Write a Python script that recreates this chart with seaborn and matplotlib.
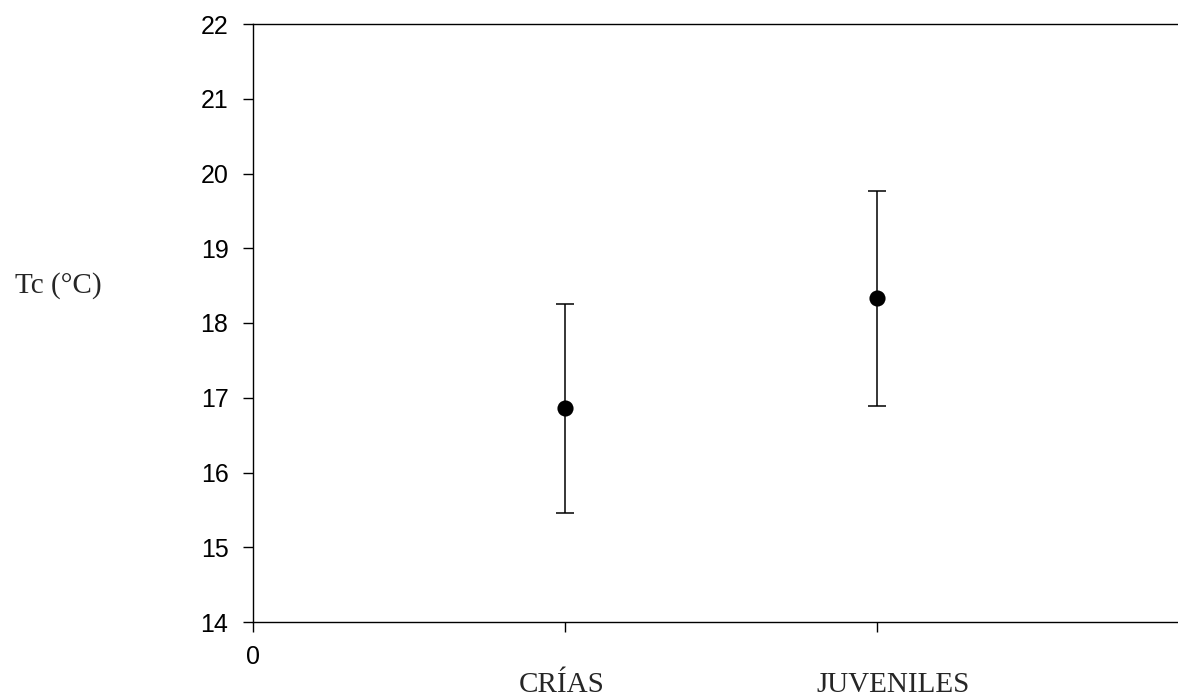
import seaborn as sns
import matplotlib.pyplot as plt
import pandas as pd

# Values
groups = ['CRÍAS', 'JUVENILES']
positions = [1, 2]
tc_mean = [16.86, 18.33]
tc_err = [1.40, 1.44]

data = pd.DataFrame({'pos': positions, 'Tc': tc_mean, 'err': tc_err, 'group': groups})

sns.set_style('white')
plt.rcParams['font.family'] = ['Liberation Sans', 'DejaVu Sans']

fig = plt.figure(figsize=(11.78, 7), dpi=100)
# right side of the frame runs off the figure edge, as in the original
ax = fig.add_axes([253 / 1178, (700 - 622) / 700, 936 / 1178, 598 / 700])

ax.errorbar(data['pos'], data['Tc'], yerr=data['err'], fmt='none',
            ecolor='black', elinewidth=1.1, capsize=6.5, capthick=1.1)
sns.scatterplot(data=data, x='pos', y='Tc', color='black', s=135,
                linewidth=0, zorder=3, ax=ax, legend=False)

ax.set_xlim(0, 3)
ax.set_ylim(14, 22)
ax.set_yticks(range(14, 23))
ax.set_xticks([0] + positions)
ax.set_xticklabels(['0', '', ''])
# category names sit lower, in a serif face
ax.set_xticks([positions[0] - 0.01, positions[1] + 0.05], minor=True)
ax.set_xticklabels(groups, minor=True, family='Liberation Serif', fontsize=21)

ax.tick_params(axis='both', which='major', direction='out', length=7.2,
               width=1, color='black', labelsize=18, labelcolor='black',
               bottom=True, left=True)
ax.tick_params(axis='y', pad=10.5)
ax.tick_params(axis='x', which='major', pad=9.5)
ax.tick_params(axis='x', which='minor', bottom=True, length=0, pad=36)

for side in ['left', 'bottom', 'top']:
    ax.spines[side].set_visible(True)
    ax.spines[side].set_color('black')
    ax.spines[side].set_linewidth(1)
ax.spines['right'].set_visible(False)

ax.set_xlabel('')
ax.set_ylabel('')
fig.text(58 / 1178, 1 - 286 / 700, 'Tc (°C)', family='Liberation Serif',
         fontsize=21, ha='center', va='center')

fig.savefig('out.png', dpi=100)
